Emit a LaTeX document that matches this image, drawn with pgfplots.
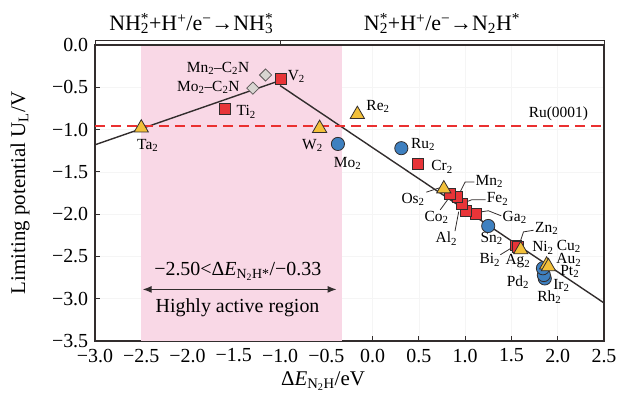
\documentclass[border=0pt]{standalone}
\usepackage{fontspec}
\setmainfont{Liberation Serif}
\usepackage{pgfplots}
\pgfplotsset{compat=1.18}
\usetikzlibrary{arrows.meta}
\definecolor{pinkreg}{RGB}{249,216,230}
\definecolor{sqred}{RGB}{232,52,56}
\definecolor{triyel}{RGB}{242,192,58}
\definecolor{cirblue}{RGB}{62,128,192}
\definecolor{diagray}{RGB}{216,213,209}
\definecolor{edge}{RGB}{50,45,45}
\definecolor{dashred}{RGB}{234,48,48}
\newcommand\lab{\fontsize{15.5}{17}\selectfont}
\newcommand\mainsz{\fontsize{20}{23}\selectfont}
\newcommand\subsup[2]{\rlap{\textsubscript{#1}}\textsuperscript{#2}}
\begin{document}
\fontsize{20}{23}\selectfont
\begin{tikzpicture}
\path[use as bounding box] (0,0) rectangle (625bp,393bp);
\begin{axis}[
  at={(95bp,52bp)}, anchor=south west,
  scale only axis, width=509bp, height=296bp,
  xmin=-3, xmax=2.5, ymin=-3.5, ymax=0,
  xtick={-3,-2.5,-2,-1.5,-1,-0.5,0,0.5,1,1.5,2,2.5},
  xticklabels={−3.0,−2.5,−2.0,−1.5,−1.0,−0.5,0.0,0.5,1.0,1.5,2.0,2.5},
  ytick={-3.5,-3,-2.5,-2,-1.5,-1,-0.5,0},
  yticklabels={−3.5,−3.0,−2.5,−2.0,−1.5,−1.0,−0.5,0.0},
  tick pos=left, tick align=inside, major tick length=5bp,
  axis line style={edge, line width=1.3pt},
  tick style={edge, line width=1pt},
  grid=major, grid style={gray!8, line width=0.5pt},
  clip=false,
  xticklabel style={font=\mainsz, yshift=-1bp},
  yticklabel style={font=\mainsz},
  xlabel={Δ\textit{E}\textsubscript{N\textsubscript{2}H}/eV},
  ylabel={Limiting potential U\textsubscript{L}/V},
  xlabel style={at={(axis description cs:0.448,-0.135)}, anchor=center, font=\fontsize{21}{24}\selectfont},
  ylabel style={at={(axis description cs:-0.147,0.5)}, anchor=center, font=\fontsize{21}{24}\selectfont},
]
% highly active region
\addplot[draw=none, fill=pinkreg] coordinates {(-2.5,-3.5) (-0.33,-3.5) (-0.33,0) (-2.5,0)} -- cycle;
% volcano lines
\addplot[edge, line width=1.4pt] coordinates {(-3,-1.18) (-1.0,-0.42)};
\addplot[edge, line width=1.4pt] coordinates {(-1.0,-0.48) (2.5,-3.05)};
% Ru(0001)
\addplot[dashred, line width=1.8pt, dash pattern=on 10bp off 6bp] coordinates {(-3,-0.955) (2.5,-0.955)};
% leader lines
\draw[edge, line width=0.8pt] (axis cs:0.93,-1.77) -- (axis cs:1.0,-1.62) -- (axis cs:1.1,-1.62);
\draw[edge, line width=0.8pt] (axis cs:0.98,-1.87) -- (axis cs:1.07,-1.83) -- (axis cs:1.22,-1.83);
\draw[edge, line width=0.8pt] (axis cs:1.13,-1.98) -- (axis cs:1.25,-1.96) -- (axis cs:1.39,-2.02);
\draw[edge, line width=0.8pt] (axis cs:0.58,-1.74) -- (axis cs:0.72,-1.69);
\draw[edge, line width=0.8pt] (axis cs:0.73,-1.95) -- (axis cs:0.83,-1.80);
\draw[edge, line width=0.8pt] (axis cs:0.89,-2.20) -- (axis cs:0.93,-1.97);
\draw[edge, line width=0.8pt] (axis cs:1.74,-2.19) -- (axis cs:1.63,-2.21) -- (axis cs:1.59,-2.34);
\draw[edge, line width=0.8pt] (axis cs:1.38,-2.48) -- (axis cs:1.53,-2.38);
% circles
\addplot[only marks, mark=*, mark size=6.6bp, mark options={fill=cirblue, draw=edge, line width=0.8pt}]
  coordinates {(-0.375,-1.17) (0.31,-1.22) (1.249,-2.14) (1.86,-2.76) (1.85,-2.72) (1.84,-2.64)};
% squares
\addplot[only marks, mark=square*, mark size=5.4bp, mark options={fill=sqred, draw=edge, line width=0.8pt}]
  coordinates {(-1.593,-0.76) (-0.987,-0.40) (0.49,-1.41) (1.116,-2.00) (1.008,-1.96) (0.964,-1.88) (0.915,-1.80) (0.834,-1.76) (1.55,-2.37) (1.57,-2.39)};
% diamonds
\addplot[only marks, mark=square*, mark size=4.3bp, mark options={rotate=45, fill=diagray, draw=edge!80, line width=0.8pt}]
  coordinates {(-1.294,-0.51) (-1.157,-0.355)};
% triangles
\addplot[only marks, mark=triangle*, mark size=8.2bp, mark options={fill=triyel, draw=edge, line width=0.8pt}]
  coordinates {(-2.50,-0.98) (-0.573,-0.985) (-0.165,-0.82) (0.769,-1.70) (1.60,-2.42) (1.88,-2.60) (1.90,-2.62)};
% header band
\draw[edge, line width=1pt] (axis cs:-3,0) rectangle (axis cs:2.5,0.05);
\draw[edge, line width=1pt] (axis cs:-1,0) -- (axis cs:-1,0.05);
\node[anchor=base, font=\fontsize{22}{25}\selectfont] at (axis cs:-1.96,0.169)
  {NH\subsup{2}{*}+H\textsuperscript{+}/e\textsuperscript{−}→NH\subsup{3}{*}};
\node[anchor=base, font=\fontsize{22}{25}\selectfont] at (axis cs:0.75,0.169)
  {N\subsup{2}{*}+H\textsuperscript{+}/e\textsuperscript{−}→N\textsubscript{2}H\textsuperscript{*}};
% region annotation
\draw[edge, line width=1.2pt, {Latex[length=9bp,width=7bp]}-{Latex[length=9bp,width=7bp]}] (axis cs:-2.485,-2.89) -- (axis cs:-0.39,-2.89);
\node[font=\mainsz] at (axis cs:-1.457,-2.68) {−2.50<Δ\textit{E}\textsubscript{N\textsubscript{2}H*}/−0.33};
\node[font=\mainsz] at (axis cs:-1.46,-3.11) {Highly active region};
% point labels
\node[font=\lab] at (axis cs:-2.43,-1.19) {Ta\textsubscript{2}};
\node[font=\lab] at (axis cs:-1.366,-0.79) {Ti\textsubscript{2}};
\node[font=\lab] at (axis cs:-1.775,-0.50) {Mo\textsubscript{2}–C\textsubscript{2}N};
\node[font=\lab] at (axis cs:-1.67,-0.276) {Mn\textsubscript{2}–C\textsubscript{2}N};
\node[font=\lab] at (axis cs:-0.825,-0.375) {V\textsubscript{2}};
\node[font=\lab] at (axis cs:-0.65,-1.19) {W\textsubscript{2}};
\node[font=\lab] at (axis cs:-0.27,-1.40) {Mo\textsubscript{2}};
\node[font=\lab] at (axis cs:0.058,-0.73) {Re\textsubscript{2}};
\node[font=\lab] at (axis cs:0.545,-1.18) {Ru\textsubscript{2}};
\node[font=\lab] at (axis cs:0.75,-1.44) {Cr\textsubscript{2}};
\node[font=\lab] at (axis cs:1.26,-1.61) {Mn\textsubscript{2}};
\node[font=\lab] at (axis cs:1.35,-1.82) {Fe\textsubscript{2}};
\node[font=\lab] at (axis cs:1.535,-2.04) {Ga\textsubscript{2}};
\node[font=\lab] at (axis cs:0.437,-1.83) {Os\textsubscript{2}};
\node[font=\lab] at (axis cs:0.69,-2.04) {Co\textsubscript{2}};
\node[font=\lab] at (axis cs:0.797,-2.29) {Al\textsubscript{2}};
\node[font=\lab] at (axis cs:1.286,-2.29) {Sn\textsubscript{2}};
\node[font=\lab] at (axis cs:1.88,-2.17) {Zn\textsubscript{2}};
\node[font=\lab] at (axis cs:1.267,-2.54) {Bi\textsubscript{2}};
\node[font=\lab] at (axis cs:1.57,-2.56) {Ag\textsubscript{2}};
\node[font=\lab] at (axis cs:1.84,-2.40) {Ni\textsubscript{2}};
\node[font=\lab] at (axis cs:2.12,-2.38) {Cu\textsubscript{2}};
\node[font=\lab] at (axis cs:2.12,-2.54) {Au\textsubscript{2}};
\node[font=\lab] at (axis cs:2.13,-2.68) {Pt\textsubscript{2}};
\node[font=\lab] at (axis cs:1.57,-2.80) {Pd\textsubscript{2}};
\node[font=\lab] at (axis cs:2.04,-2.84) {Ir\textsubscript{2}};
\node[font=\lab] at (axis cs:1.91,-2.98) {Rh\textsubscript{2}};
\node[font=\lab] at (axis cs:2.007,-0.81) {Ru(0001)};
\end{axis}
\end{tikzpicture}
\end{document}
